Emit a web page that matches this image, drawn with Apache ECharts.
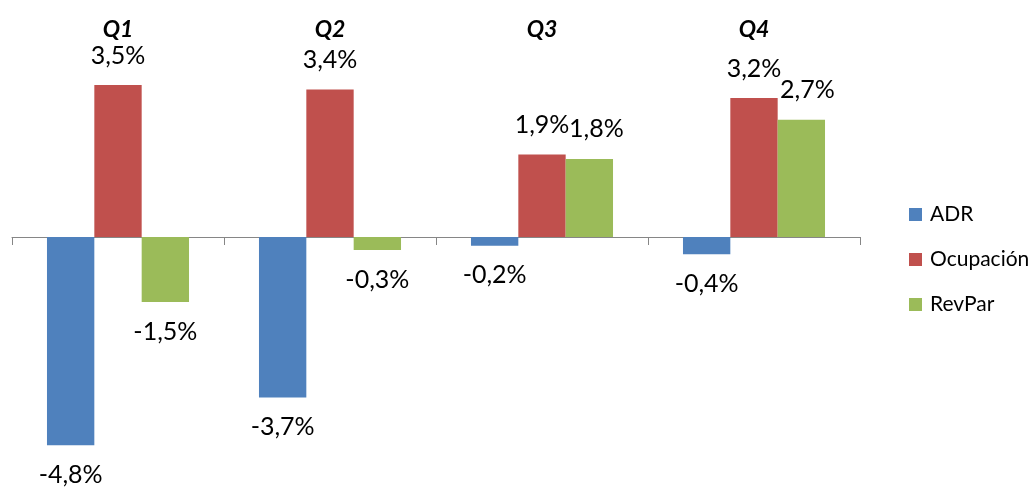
<!DOCTYPE html>
<html><head><meta charset="utf-8">
<script src="https://cdn.jsdelivr.net/npm/echarts@6/dist/echarts.min.js"></script>
<style>html,body{margin:0;padding:0;background:#fff}#c{width:1031px;height:489px}</style>
</head><body><div id="c"></div>
<script>
const categories = ['Q1', 'Q2', 'Q3', 'Q4'];
const adr = [-4.8, -3.7, -0.2, -0.4];
const ocupacion = [3.5, 3.4, 1.9, 3.2];
const revpar = [-1.5, -0.3, 1.8, 2.7];
const seriesNames = ['ADR', 'Ocupación', 'RevPar'];
const colors = ['#4F81BD', '#C0504D', '#9BBB59'];

const FONT = 'Lato, "Open Sans", sans-serif';
const chart = echarts.init(document.getElementById('c'));

function fmt(v) { return v.toFixed(1).replace('.', ',') + '%'; }

function mkData(arr, extraOffsets) {
  return arr.map((v, i) => {
    const d = { value: v, label: { position: v >= 0 ? 'top' : 'bottom' } };
    if (extraOffsets && extraOffsets[i]) d.label.offset = extraOffsets[i];
    return d;
  });
}

const labelBase = {
  show: true, distance: 17, fontFamily: FONT, fontSize: 25, color: '#000',
  formatter: p => fmt(p.value)
};

chart.setOption({
  animation: false,
  color: colors,
  grid: { left: 12, right: 171, top: 20, bottom: 35 },
  legend: {
    orient: 'vertical', left: 904, top: 199, itemWidth: 13, itemHeight: 13, itemGap: 24,
    icon: 'rect',
    textStyle: { fontFamily: FONT, fontSize: 21, color: '#000', padding: [0, 0, 0, 3] },
    data: seriesNames
  },
  xAxis: [{
    type: 'category', data: categories, position: 'bottom',
    axisLine: { onZero: true, lineStyle: { color: '#868686', width: 1 } },
    axisTick: { show: true, length: 8, lineStyle: { color: '#868686' } },
    axisLabel: { show: false }
  }, {
    type: 'category', data: categories, position: 'top', offset: -21,
    axisLine: { show: false }, axisTick: { show: false },
    axisLabel: { fontFamily: FONT, fontSize: 23, fontWeight: 'bold', fontStyle: 'italic', color: '#000', margin: 0 }
  }],
  yAxis: { type: 'value', min: -5, max: 5, show: false, splitLine: { show: false } },
  series: [
    { name: seriesNames[0], type: 'bar', data: mkData(adr), label: labelBase, barCategoryGap: '33%', barGap: '0%' },
    { name: seriesNames[1], type: 'bar', data: mkData(ocupacion), label: labelBase, barGap: '0%' },
    { name: seriesNames[2], type: 'bar', data: mkData(revpar, [null, null, [7, 0], [6, 0]]), label: labelBase, barGap: '0%' }
  ]
});
</script></body></html>
